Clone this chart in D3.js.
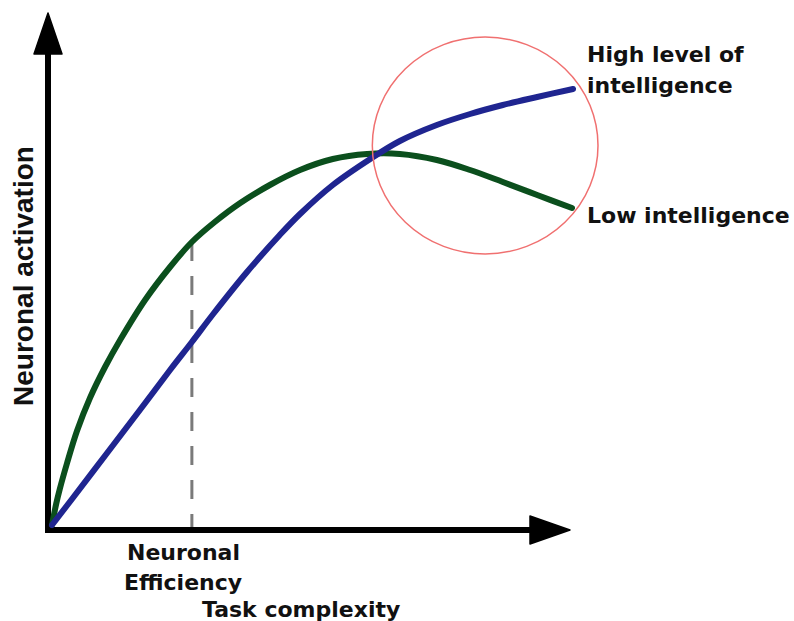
<!DOCTYPE html>
<html>
<head>
<meta charset="utf-8">
<script src="https://cdn.jsdelivr.net/npm/d3@7"></script>
<style>
  html, body { margin: 0; padding: 0; background: #fff; }
  svg { display: block; }
</style>
</head>
<body>
<svg id="chart" width="794" height="621"></svg>
<script>
// Task complexity (x, 0..100) vs neuronal activation (y, 0..100)
const lowX  = [0, 0.8, 1.5, 2.9, 4.8, 7.3, 10.2, 13.1, 17.9, 22.7, 26.9, 31.3, 36.2, 41.9, 47.7, 54.0, 60.6, 66.9, 74.0, 80.4, 86.7, 93.3, 100];
const lowY  = [0, 4.2, 7.2, 12.4, 18.8, 25.4, 31.6, 37.0, 45.0, 51.6, 56.6, 60.6, 64.4, 68.0, 71.0, 73.2, 74.2, 74.2, 73.0, 71.0, 68.6, 66.0, 63.4];
const highX = [0, 4.0, 10.6, 16.9, 22.7, 26.9, 31.0, 37.5, 43.8, 47.7, 54.0, 61.2, 66.9, 74.0, 80.4, 86.7, 93.3, 100.2];
const highY = [0, 5.4, 14.4, 23.0, 31.0, 36.6, 42.2, 50.6, 58.0, 62.2, 68.0, 73.2, 76.8, 80.0, 82.2, 84.0, 85.6, 87.2];
const seriesLabels = ["High level of", "intelligence", "Low intelligence"];
const efficiencyX = 26.9;           // "Neuronal Efficiency" marker
const efficiencyLabel = ["Neuronal", "Efficiency"];
const xTitle = "Task complexity";
const yTitle = "Neuronal activation";
const focusCircle = { cx: 83.3, cy: 75.9, r: 21.7 };

const svg = d3.select("#chart");
const x = d3.scaleLinear().domain([0, 100]).range([52, 572]);
const y = d3.scaleLinear().domain([0, 100]).range([525, 25]);

const axisX = x(0) - 4, axisY = y(0) + 5;

// axes (arrows)
svg.append("line").attr("x1", axisX).attr("y1", axisY + 3).attr("x2", axisX).attr("y2", 50)
  .attr("stroke", "#000").attr("stroke-width", 6);
svg.append("line").attr("x1", axisX - 3).attr("y1", axisY).attr("x2", 535).attr("y2", axisY)
  .attr("stroke", "#000").attr("stroke-width", 6);
svg.append("path").attr("d", `M${axisX},13 L${axisX + 14},54 L${axisX - 14},54 Z`)
  .attr("fill", "#000").attr("stroke", "#000").attr("stroke-width", 1.5).attr("stroke-linejoin", "round");
svg.append("path").attr("d", `M570,${axisY} L530,${axisY - 14} L530,${axisY + 14} Z`)
  .attr("fill", "#000").attr("stroke", "#000").attr("stroke-width", 1.5).attr("stroke-linejoin", "round");

// dashed efficiency marker
const lowAtEff = lowY[lowX.indexOf(efficiencyX)];
svg.append("line")
  .attr("x1", x(efficiencyX)).attr("x2", x(efficiencyX))
  .attr("y1", y(lowAtEff)).attr("y2", axisY - 3)
  .attr("stroke", "#7a7a7a").attr("stroke-width", 3)
  .attr("stroke-dasharray", "19,15");

const line = d3.line().x(d => x(d[0])).y(d => y(d[1])).curve(d3.curveCatmullRom.alpha(0.5));

svg.append("path").datum(d3.zip(lowX, lowY)).attr("d", line)
  .attr("fill", "none").attr("stroke", "#0b4f1d").attr("stroke-width", 6).attr("stroke-linecap", "round");
svg.append("path").datum(d3.zip(highX, highY)).attr("d", line)
  .attr("fill", "none").attr("stroke", "#1f2590").attr("stroke-width", 6).attr("stroke-linecap", "round");

// focus circle
svg.append("ellipse")
  .attr("cx", x(focusCircle.cx)).attr("cy", y(focusCircle.cy))
  .attr("rx", x(focusCircle.r) - x(0)).attr("ry", y(0) - y(focusCircle.r))
  .attr("fill", "none").attr("stroke", "#f07070").attr("stroke-width", 1.5);

// labels
const lab = (t, px, py) => svg.append("text").attr("x", px).attr("y", py).text(t)
  .attr("font-family", "DejaVu Sans").attr("font-weight", "bold").attr("font-size", 22).attr("fill", "#111");
lab(seriesLabels[0], 587, 62);
lab(seriesLabels[1], 587, 93);
lab(seriesLabels[2], 587, 223);
lab(efficiencyLabel[0], 127, 560);
lab(efficiencyLabel[1], 124, 590);
lab(xTitle, 202, 617);

svg.append("text").text(yTitle)
  .attr("transform", "translate(33,276) rotate(-90)")
  .attr("text-anchor", "middle")
  .attr("font-family", "Liberation Sans").attr("font-weight", "bold").attr("font-size", 28).attr("fill", "#111");
</script>
</body>
</html>
